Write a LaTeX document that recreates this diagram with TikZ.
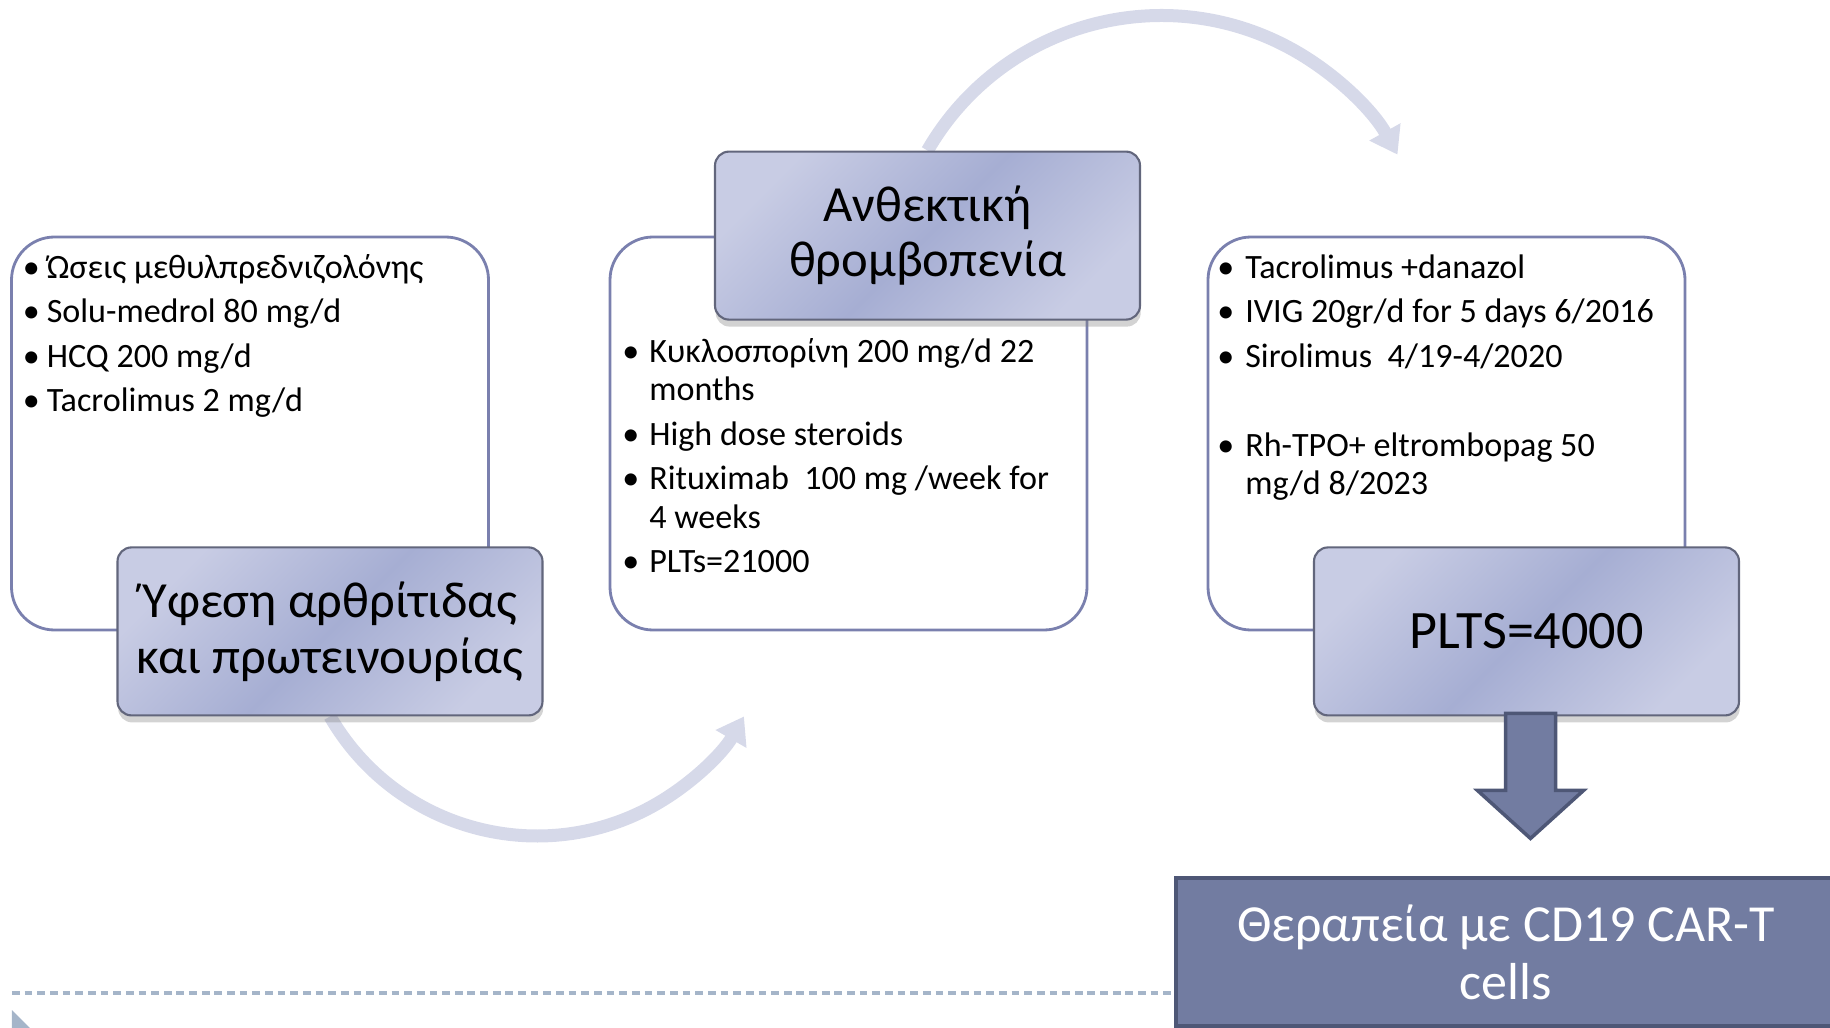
\documentclass[tikz,border=0pt]{standalone}
\usepackage{fontspec}
\setmainfont{Carlito}
\usepackage{tikz}
\usetikzlibrary{positioning, arrows.meta, shadows, calc, backgrounds}

\definecolor{LabelLight}{RGB}{200,204,228}
\definecolor{LabelDark}{RGB}{166,174,211}
\definecolor{LabelEdge}{RGB}{98,102,124}
\definecolor{ListEdge}{RGB}{122,128,174}
\definecolor{ArcColor}{RGB}{214,217,233}
\definecolor{CarFill}{RGB}{114,124,161}
\definecolor{CarEdge}{RGB}{78,87,118}
\definecolor{DashColor}{RGB}{165,181,201}

\tikzset{
  listbox/.style={draw=ListEdge, line width=0.8pt, rounded corners=0.43cm, fill=white,
    minimum width=4.77cm, minimum height=3.93cm},
  listtext/.style={inner sep=0pt, align=left, font=\fontsize{9.7}{10.95}\selectfont},
  stagebox/.style={draw=LabelEdge, line width=0.6pt, rounded corners=0.14cm,
    minimum width=4.25cm, minimum height=1.68cm,
    top color=LabelLight, bottom color=LabelLight, middle color=LabelDark, shading angle=45,
    drop shadow={shadow xshift=0.2pt, shadow yshift=-2pt, opacity=0.35},
    align=center, font=\fontsize{14.4}{15.9}\selectfont},
  curvearrow/.style={ArcColor, line width=0.13cm, -{Triangle[width=0.34cm,length=0.26cm]}},
  carbox/.style={rectangle, fill=CarFill, draw=CarEdge, line width=1.2pt,
    minimum width=6.6cm, minimum height=1.48cm, text=white, align=center,
    font=\fontsize{14.8}{16.5}\selectfont},
  blockarrow/.style={fill=CarFill, draw=CarEdge, line width=1pt, line join=miter}
}

\begin{document}
\begin{tikzpicture}
\useasboundingbox (0,0) rectangle (18.30,10.27);

\node[listbox] (list1) at (2.50,5.935) {};
\node[listbox] (list2) at (8.485,5.935) {};
\node[listbox] (list3) at (14.465,5.935) {};

\node[listtext, below right=0.15cm and 0.12cm of list1.north west] (txt1) {%
  \begin{tabular}{@{}p{0.24cm}@{}l@{}}
  • & Ώσεις μεθυλπρεδνιζολόνης\\[1.7pt]
  • & Solu-medrol 80 mg/d\\[1.7pt]
  • & HCQ 200 mg/d\\[1.7pt]
  • & Tacrolimus 2 mg/d
  \end{tabular}};
\node[listtext, below right=0.99cm and 0.13cm of list2.north west] (txt2) {%
  \begin{tabular}{@{}p{0.27cm}@{}l@{}}
  • & Κυκλοσπορίνη 200 mg/d 22\\
    & months\\[1.7pt]
  • & High dose steroids\\[1.7pt]
  • & Rituximab\ \ 100 mg /week for\\
    & 4 weeks\\[1.7pt]
  • & PLTs=21000
  \end{tabular}};
\node[listtext, below right=0.15cm and 0.1cm of list3.north west] (txt3) {%
  \begin{tabular}{@{}p{0.28cm}@{}l@{}}
  • & Tacrolimus +danazol\\[1.7pt]
  • & IVIG 20gr/d for 5 days 6/2016\\[1.7pt]
  • & Sirolimus\ \ 4/19-4/2020\\[1.7pt]
    & \\[1.7pt]
  • & Rh-TPO+ eltrombopag 50\\
    & mg/d 8/2023
  \end{tabular}};

\node[stagebox] (ufesi) at ($(list1.south)+(0.8,0)$) {Ύφεση αρθρίτιδας\\και πρωτεινουρίας};
\node[stagebox] (anthektiki) at ($(list2.north)+(0.79,0)$) {Ανθεκτική\\θρομβοπενία};
\node[stagebox, font=\fontsize{15.4}{17}\selectfont] (plts) at ($(list3.south)+(0.8,0)$) {PLTS=4000};

\node[carbox] (cart) at (15.06,0.75) {Θεραπεία με CD19 CAR-T\\cells};

\begin{scope}[on background layer]
  \draw[curvearrow] (ufesi.south) arc[start angle=210, end angle=330, radius=2.39];
  \draw[curvearrow] (anthektiki.north) arc[start angle=150, end angle=29, radius=2.70];
\end{scope}

\coordinate (dtop) at ($(plts.south)+(0.04,0.03)$);
\draw[blockarrow] ($(dtop)+(-0.25,0)$) -- ++(0,-0.77) -- ++(-0.28,0) -- ($(dtop)+(0,-1.25)$)
  -- ($(dtop)+(0.53,-0.77)$) -- ++(-0.28,0) -- ($(dtop)+(0.25,0)$) -- cycle;

\draw[DashColor, line width=0.9pt, dash pattern=on 2.2pt off 1.4pt] (0.12,0.34) -- (0.12,0.34 -| cart.west);
\fill[DashColor] (0.12,0.17) -- (0.32,-0.03) -- (0.12,-0.23) -- cycle;
\end{tikzpicture}
\end{document}
